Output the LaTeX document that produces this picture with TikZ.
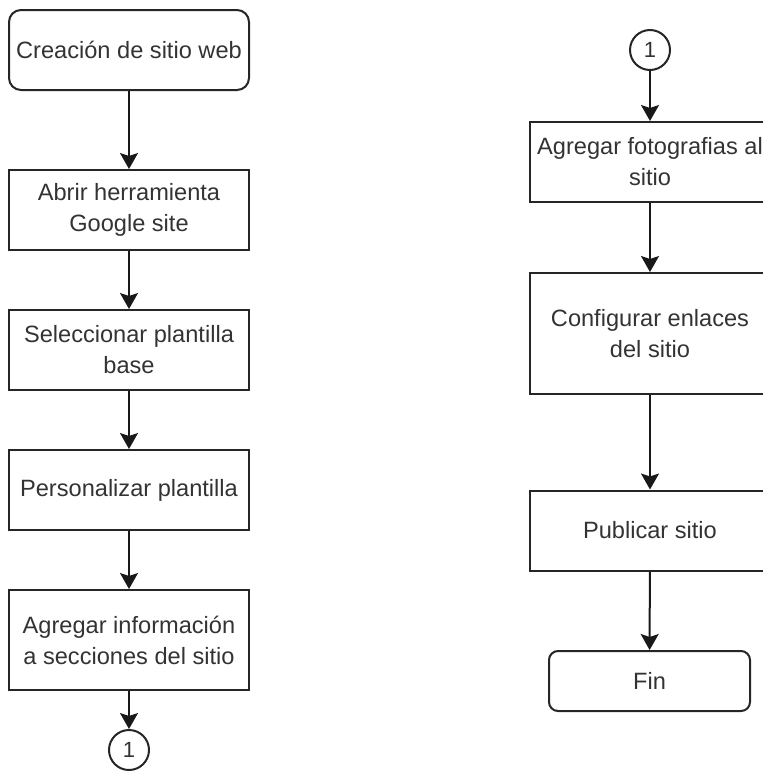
\documentclass[tikz,border=0pt]{standalone}
\usepackage{fontspec}
\setmainfont{Liberation Sans}
\usetikzlibrary{arrows.meta,positioning}

\begin{document}
\begin{tikzpicture}[x=0.5pt,y=-0.5pt,
  caja/.style={draw=black!85,line width=1pt,minimum width=120pt,minimum height=40pt,
    inner sep=0pt,align=center,text=black!80,font=\fontsize{11.8}{15.5}\selectfont},
  terminal/.style={caja,rounded corners=6pt},
  conector/.style={circle,draw=black!85,line width=1pt,minimum size=20pt,inner sep=0pt,
    text=black!80,font=\fontsize{11}{13}\selectfont},
  flecha/.style={-{Stealth[length=8pt,width=9pt,inset=1.5pt]},line width=1pt,black!90}]
\useasboundingbox (0,0) rectangle (763,771);
% columna izquierda
\node[terminal] (inicio) at (129,50) {Creación de sitio web};
\node[caja] (abrir) at (129,210) {Abrir herramienta\\Google site};
\node[caja] (plantilla) at (129,350) {Seleccionar plantilla\\base};
\node[caja] (personalizar) at (129,490) {Personalizar plantilla};
\node[caja,minimum height=50pt] (info) at (129,640) {Agregar información\\a secciones del sitio};
\node[conector] (conA) at (129,750) {1};
% columna derecha
\node[conector] (conB) at (650,50) {1};
\node[caja] (fotos) at (650,162) {Agregar fotografias al\\sitio};
\node[caja,minimum height=60.5pt] (enlaces) at (650,333.5) {Configurar enlaces\\del sitio};
\node[caja] (publicar) at (650,530.5) {Publicar sitio};
\node[terminal,minimum width=100.5pt,minimum height=30pt,rounded corners=4.5pt] (fin) at (649.5,681) {Fin};
\draw[flecha] (inicio) -- (abrir);
\draw[flecha] (abrir) -- (plantilla);
\draw[flecha] (plantilla) -- (personalizar);
\draw[flecha] (personalizar) -- (info);
\draw[flecha] (info) -- (conA);
\draw[flecha] (conB) -- (fotos);
\draw[flecha] (fotos) -- (enlaces);
\draw[flecha] (enlaces) -- (publicar);
\draw[flecha] (publicar) -- (fin);
\end{tikzpicture}
\end{document}
